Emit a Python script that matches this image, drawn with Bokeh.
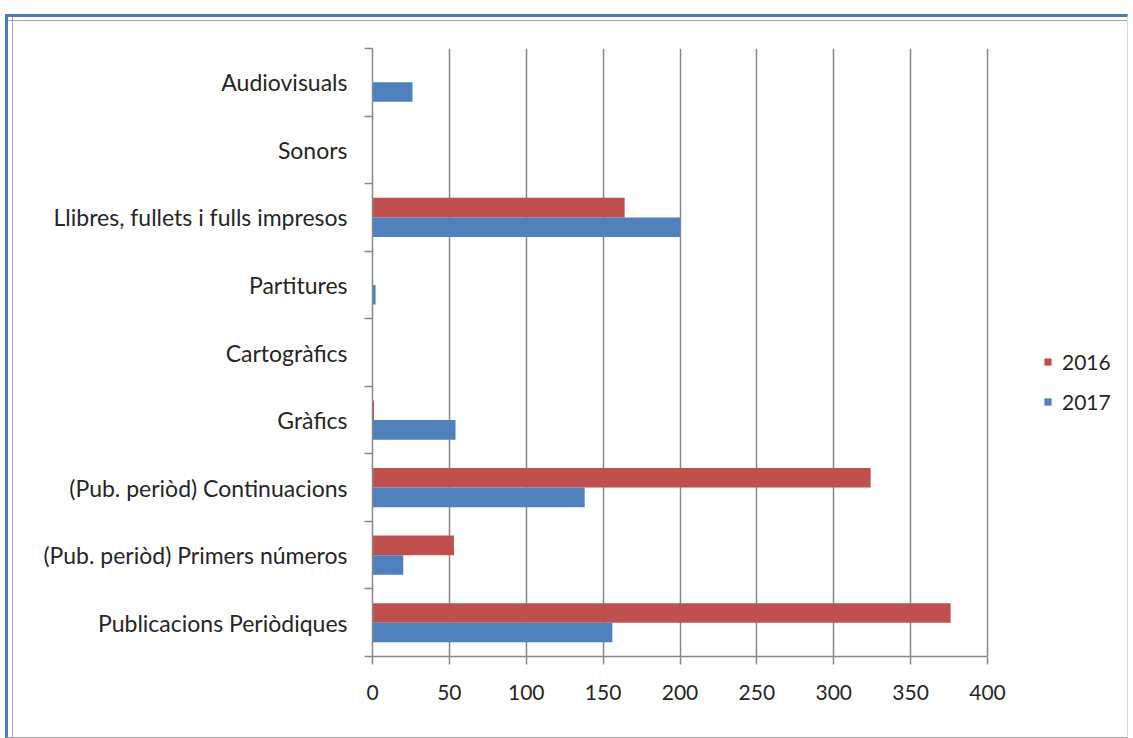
from bokeh.plotting import figure
from bokeh.models import Range1d, FixedTicker, Legend, LegendItem, ColumnDataSource
from bokeh.transform import dodge
from bokeh.embed import file_html
from bokeh.resources import INLINE

# ---- data (bottom to top, as drawn) ----
categories = [
    "Publicacions Periòdiques",
    "(Pub. periòd) Primers números",
    "(Pub. periòd) Continuacions",
    "Gràfics",
    "Cartogràfics",
    "Partitures",
    "Llibres, fullets i fulls impresos",
    "Sonors",
    "Audiovisuals",
]
values_2016 = [376, 53, 324, 1, 0, 0, 164, 0, 0]
values_2017 = [156, 20, 138, 54, 0, 2, 200, 0, 26]
series_names = ["2016", "2017"]
x_ticks = [0, 50, 100, 150, 200, 250, 300, 350, 400]

RED = "#C0504D"
BLUE = "#4F81BD"
GRID = "#878787"
TEXT = "#262626"
FONT = "Lato"

AXIS_MAX = 400
PX_PER_UNIT = 615 / AXIS_MAX
FRAME_W = 755                      # plot area reaches the legend on the right
X_END = FRAME_W / PX_PER_UNIT

pos = list(range(len(categories)))
src = ColumnDataSource(dict(y=pos, v16=values_2016, v17=values_2017))

p = figure(
    frame_width=FRAME_W, frame_height=608,
    x_range=Range1d(0, X_END), y_range=Range1d(-0.5, len(categories) - 0.5),
    output_backend="svg", toolbar_location=None,
    min_border_left=364, min_border_right=0,
    min_border_top=31, min_border_bottom=81,
)
p.styles = {
    "margin-top": "14px",
    "margin-left": "5px",
    "border-top": "3px solid #4A7EBB",
    "border-left": "3px solid #4A7EBB",
    "border-bottom": "1px solid #A6A6A6",
    "border-right": "1px solid #D9D9D9",
    "background-color": "white",
    "background-image": "linear-gradient(#A6A6A6, #A6A6A6), linear-gradient(#A6A6A6, #A6A6A6)",
    "background-size": "100% 1px, 1px 100%",
    "background-position": "0px 3px, 4px 0px",
    "background-repeat": "no-repeat",
}
p.background_fill_color = "white"
p.border_fill_alpha = 0
p.outline_line_color = None

r16 = p.hbar(y=dodge("y", 0.145, range=p.y_range), left=0, right="v16", height=0.29,
             source=src, fill_color=RED, line_color=None)
r17 = p.hbar(y=dodge("y", -0.145, range=p.y_range), left=0, right="v17", height=0.29,
             source=src, fill_color=BLUE, line_color=None)

# y axis: labels at category centres, tick marks at category boundaries
ya = p.yaxis[0]
ya.ticker = FixedTicker(ticks=pos, minor_ticks=[i - 0.5 for i in range(len(categories) + 1)])
ya.major_label_overrides = {i: c for i, c in enumerate(categories)}
ya.major_tick_line_color = None
ya.major_tick_out = 0
ya.major_tick_in = 0
ya.minor_tick_line_color = GRID
ya.minor_tick_line_width = 1.5
ya.minor_tick_out = 8
ya.minor_tick_in = 0
ya.major_label_standoff = 17
ya.axis_line_color = GRID
ya.axis_line_width = 1.5
ya.major_label_text_font = FONT
ya.major_label_text_font_size = "23px"
ya.major_label_text_color = TEXT

xa = p.xaxis[0]
xa.ticker = FixedTicker(ticks=x_ticks)
xa.bounds = (0, AXIS_MAX)
xa.major_tick_line_color = GRID
xa.major_tick_line_width = 1.5
xa.major_tick_out = 8
xa.major_tick_in = 0
xa.minor_tick_line_color = None
xa.axis_line_color = GRID
xa.axis_line_width = 1.5
xa.major_label_standoff = 20
xa.major_label_text_font = FONT
xa.major_label_text_font_size = "21px"
xa.major_label_text_color = TEXT

p.xgrid.ticker = FixedTicker(ticks=x_ticks)
p.xgrid.grid_line_color = GRID
p.xgrid.grid_line_width = 1.5
p.ygrid.grid_line_color = None

legend = Legend(
    items=[LegendItem(label=series_names[0], renderers=[r16]),
           LegendItem(label=series_names[1], renderers=[r17])],
    location=(671, 242),
    glyph_width=9, glyph_height=9, label_standoff=10,
    label_height=21, spacing=15, padding=0, margin=0,
    border_line_color=None, background_fill_alpha=0,
    label_text_font=FONT, label_text_font_size="21px", label_text_color=TEXT,
)
p.add_layout(legend)

open("out.html", "w").write(file_html(p, INLINE))
